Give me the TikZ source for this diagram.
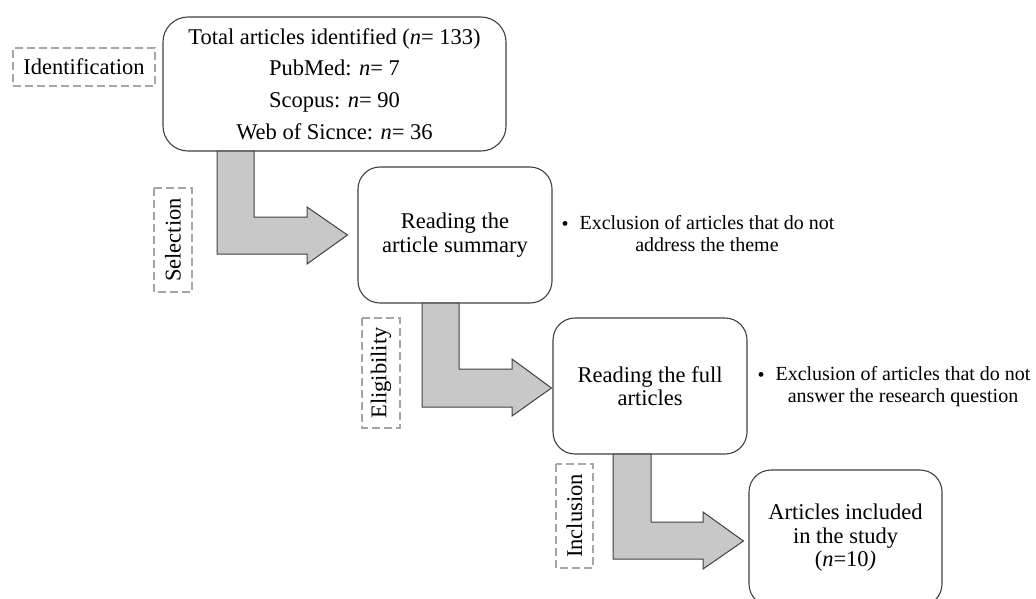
\documentclass[tikz,border=0pt]{standalone}
\usepackage{fontspec}
\setmainfont{Liberation Serif}
\definecolor{boxline}{RGB}{64,64,64}
\definecolor{arrowline}{RGB}{64,64,64}
\definecolor{arrowfill}{RGB}{200,200,200}
\definecolor{dashgray}{RGB}{166,166,166}
\begin{document}
\begin{tikzpicture}[x=1pt,y=-1pt,
  box/.style={draw=boxline, line width=1.1pt, rounded corners=22pt, align=center,
    font=\fontsize{22.5}{24}\selectfont, inner sep=0pt},
  stage/.style={draw=dashgray, line width=1.4pt, dash pattern=on 8pt off 4pt,
    font=\fontsize{22.5}{27}\selectfont, inner sep=0pt},
  blockarrow/.style={draw=arrowline, fill=arrowfill, line width=1pt, line join=miter},
  note/.style={align=center, font=\fontsize{20}{22}\selectfont, inner sep=0pt}]
\useasboundingbox (0,0) rectangle (1036,598);
\clip (0,0) rectangle (1036,598);

% main boxes
\node[box, minimum width=343, minimum height=134, rounded corners=25pt,
  font=\fontsize{22.5}{31.7}\selectfont] (ident) at (334.5,84)
  {Total articles identified (\textit{n}= 133)\\PubMed: \textit{n}= 7\\Scopus: \textit{n}= 90\\Web of Sicnce: \textit{n}= 36};
\node[box, minimum width=194, minimum height=136] (summary) at (455,235)
  {Reading the\\article summary};
\node[box, minimum width=194, minimum height=136, font=\fontsize{22.5}{23}\selectfont] (full) at (650,386)
  {Reading the full\\articles};
\node[box, minimum width=193, minimum height=136, font=\fontsize{22.5}{23.5}\selectfont] (incl) at (845.5,538)
  {Articles included\\in the study\\(\textit{n}=10\textit{)}};

% stage labels
\node[stage, minimum width=142, minimum height=38] (sIdent) at (84,67) {Identification};
\node[stage, rotate=90, minimum width=104, minimum height=38] (sSel) at (173,240) {Selection};
\node[stage, rotate=90, minimum width=110, minimum height=38] (sElig) at (381,373) {Eligibility};
\node[stage, rotate=90, minimum width=104, minimum height=37] (sIncl) at (574.5,516) {Inclusion};

% block arrows
\draw[blockarrow] (217,151) -- (254,151) -- (254,217) -- (307,217) -- (307,207)
  -- ([xshift=-10pt]summary.west) -- (307,264) -- (307,254) -- (217,254) -- cycle;
\draw[blockarrow] (422,303) -- (459,303) -- (459,369) -- (512,369) -- (512,359)
  -- ([xshift=-1pt,yshift=-2pt]full.west) -- (512,416) -- (512,407) -- (422,407) -- cycle;
\draw[blockarrow] (613,454) -- (651,454) -- (651,522) -- (703,522) -- (703,512)
  -- ([xshift=-5pt,yshift=-3pt]incl.west) -- (703,569) -- (703,559) -- (613,559) -- cycle;

% exclusion notes
\node[note, anchor=base, font=\fontsize{20}{22}\selectfont] (bul1) at (565,230) {\textbullet};
\node[note] (ex1) at (707,233.7) {Exclusion of articles that do not\\address the theme};
\node[note, anchor=base, font=\fontsize{20}{22}\selectfont] (bul2) at (761,381) {\textbullet};
\node[note] (ex2) at (903,386.9) {Exclusion of articles that do not\\answer the research question};
\end{tikzpicture}
\end{document}
